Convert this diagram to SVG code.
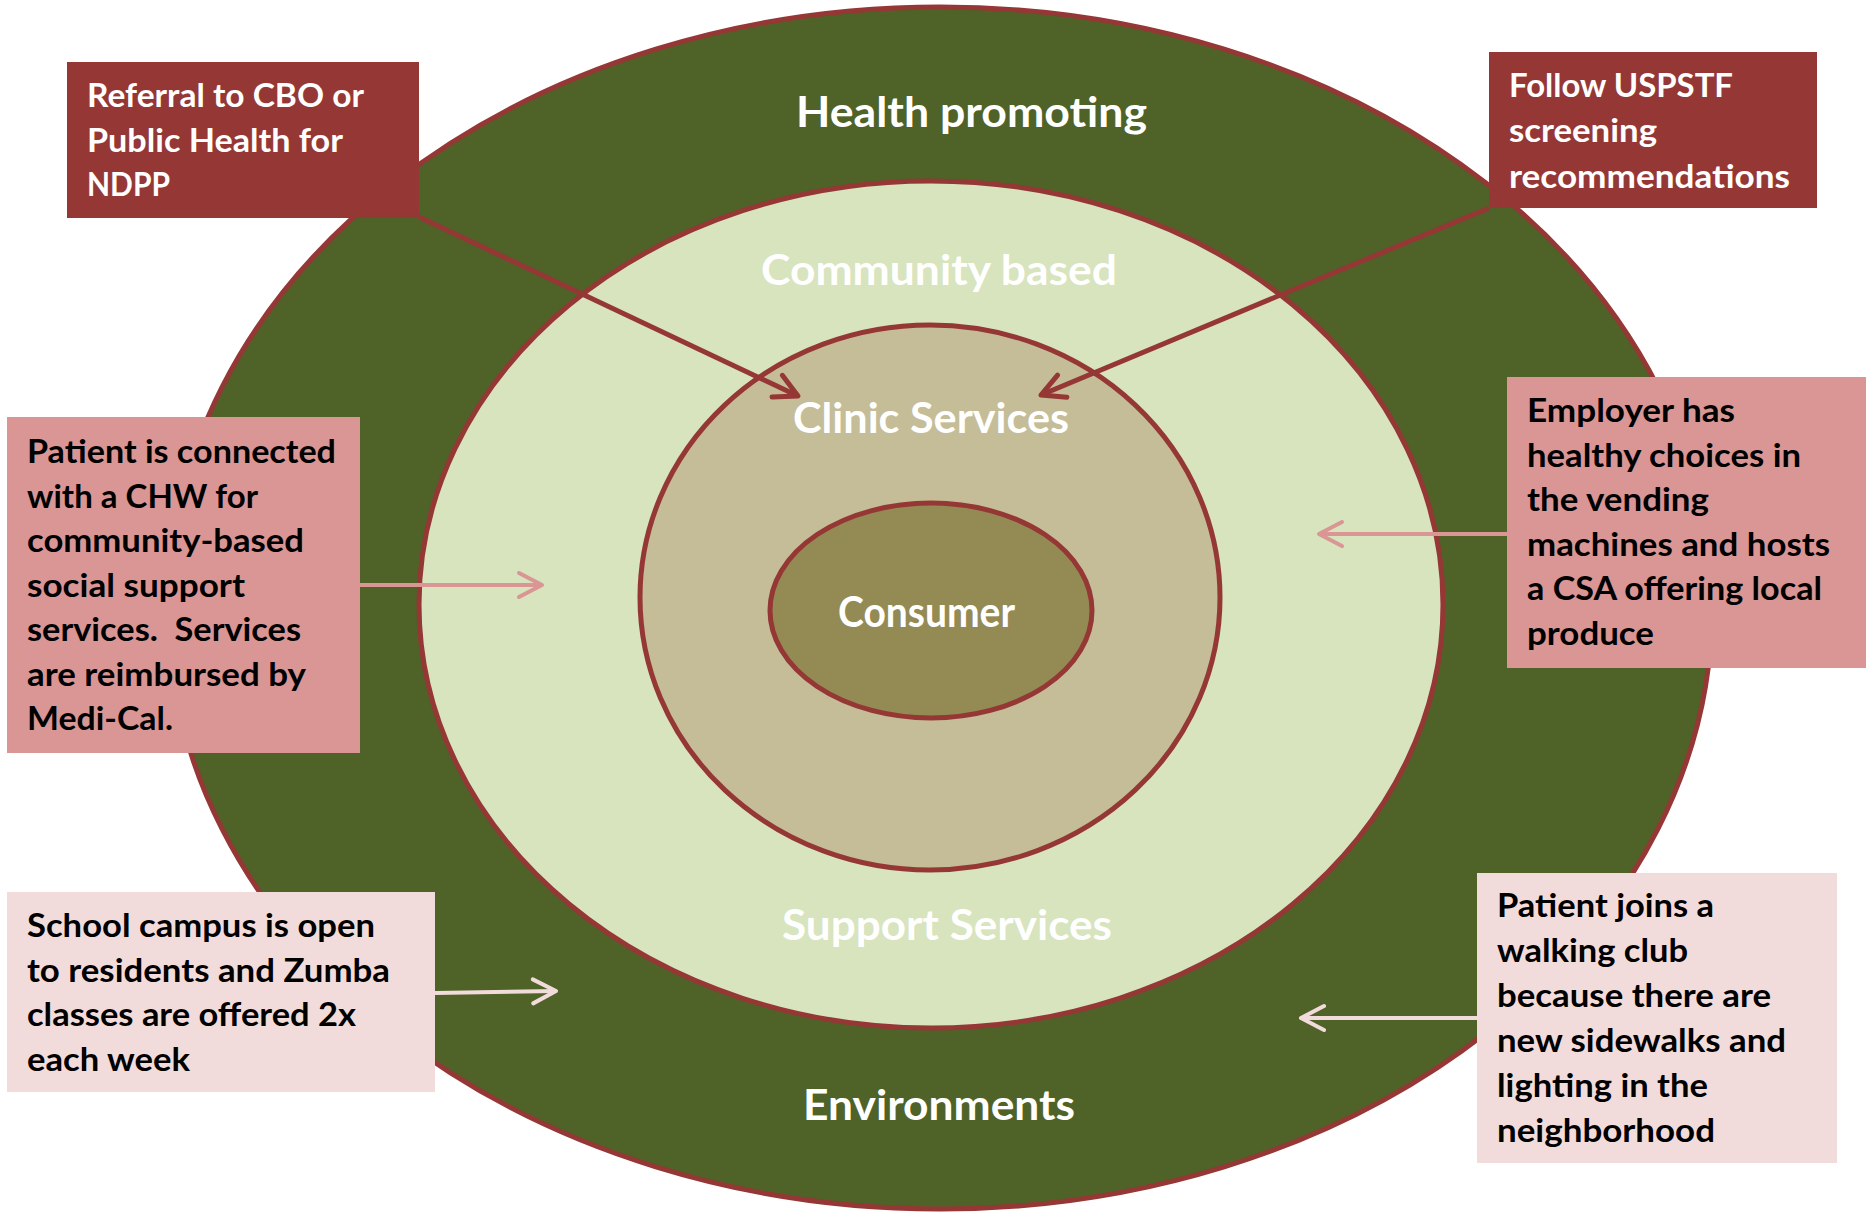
<svg xmlns="http://www.w3.org/2000/svg" width="1866" height="1212" viewBox="0 0 1866 1212">
  <style>
    .ring { stroke: #953735; stroke-width: 5; }
    .title { font-family: Lato, "Open Sans", "Liberation Sans", sans-serif; font-weight: bold; font-size: 42px; fill: #FFFFFF; }
    .note { font-family: Lato, "Open Sans", "Liberation Sans", sans-serif; font-weight: bold; font-size: 32px; }
    .note-light { fill: #FFFFFF; }
    .note-dark { fill: #000000; }
    .box-red { fill: #953735; }
    .box-pink { fill: #D99694; }
    .box-pale { fill: #F2DCDB; }
    .link { fill: none; stroke-linecap: butt; }
    .link-red { stroke: #953735; stroke-width: 5; }
    .link-pink { stroke: #D99694; stroke-width: 4; }
    .link-pale { stroke: #F2DCDB; stroke-width: 4; }
  </style>
  <defs>
    <marker id="head-red" viewBox="-30 -20 40 40" refX="0" refY="0" markerWidth="40" markerHeight="40" markerUnits="userSpaceOnUse" orient="auto" overflow="visible">
      <path d="M-23,-12 L0,0 L-23,12" fill="none" stroke="#953735" stroke-width="5" stroke-linecap="round" stroke-linejoin="round"/>
    </marker>
    <marker id="head-pink" viewBox="-30 -20 40 40" refX="0" refY="0" markerWidth="40" markerHeight="40" markerUnits="userSpaceOnUse" orient="auto" overflow="visible">
      <path d="M-23,-12 L0,0 L-23,12" fill="none" stroke="#D99694" stroke-width="4" stroke-linecap="round" stroke-linejoin="round"/>
    </marker>
    <marker id="head-pale" viewBox="-30 -20 40 40" refX="0" refY="0" markerWidth="40" markerHeight="40" markerUnits="userSpaceOnUse" orient="auto" overflow="visible">
      <path d="M-23,-12 L0,0 L-23,12" fill="none" stroke="#F2DCDB" stroke-width="4" stroke-linecap="round" stroke-linejoin="round"/>
    </marker>
  </defs>

  <rect width="1866" height="1212" fill="#FFFFFF"/>

  <!-- concentric rings -->
  <g id="ring-environments">
    <ellipse class="ring" cx="940" cy="608" rx="772" ry="601" fill="#4F6228" stroke-width="4"/>
    <text class="title" x="796" y="127" textLength="351" lengthAdjust="spacingAndGlyphs">Health promoting</text>
    <text class="title" x="803" y="1120" textLength="272" lengthAdjust="spacingAndGlyphs">Environments</text>
  </g>
  <g id="ring-community">
    <ellipse class="ring" cx="931" cy="604.5" rx="512" ry="423.5" fill="#D7E4BD"/>
    <text class="title" x="761" y="285" textLength="356" lengthAdjust="spacingAndGlyphs">Community based</text>
    <text class="title" x="782" y="940" textLength="330" lengthAdjust="spacingAndGlyphs">Support Services</text>
  </g>
  <g id="ring-clinic">
    <ellipse class="ring" cx="930" cy="597.5" rx="290" ry="272.5" fill="#C4BD97"/>
    <text class="title" x="793" y="433" textLength="276" lengthAdjust="spacingAndGlyphs">Clinic Services</text>
  </g>
  <g id="ring-consumer">
    <ellipse class="ring" cx="931" cy="610.5" rx="161" ry="107.5" fill="#948A54"/>
    <text class="title" x="838" y="627" textLength="177" lengthAdjust="spacingAndGlyphs">Consumer</text>
  </g>

  <!-- connectors -->
  <g id="connectors">
    <line class="link link-red" x1="419" y1="217" x2="798" y2="396" marker-end="url(#head-red)"/>
    <line class="link link-red" x1="1489" y1="208" x2="1041" y2="395" marker-end="url(#head-red)"/>
    <line class="link link-pink" x1="360" y1="585" x2="542" y2="585" marker-end="url(#head-pink)"/>
    <line class="link link-pink" x1="1507" y1="534" x2="1319" y2="534" marker-end="url(#head-pink)"/>
    <line class="link link-pale" x1="435" y1="993" x2="556" y2="991" marker-end="url(#head-pale)"/>
    <line class="link link-pale" x1="1477" y1="1018" x2="1301" y2="1018" marker-end="url(#head-pale)"/>
  </g>

  <!-- note boxes -->
  <g id="note-referral">
    <rect class="box-red" x="67" y="62" width="352" height="156"/>
    <text class="note note-light" x="87" y="107" textLength="277" lengthAdjust="spacingAndGlyphs">Referral to CBO or</text>
    <text class="note note-light" x="87" y="151.5" textLength="256" lengthAdjust="spacingAndGlyphs">Public Health for</text>
    <text class="note note-light" x="87" y="196" textLength="83" lengthAdjust="spacingAndGlyphs">NDPP</text>
  </g>
  <g id="note-uspstf">
    <rect class="box-red" x="1489" y="52" width="328" height="156"/>
    <text class="note note-light" x="1509" y="97" textLength="224" lengthAdjust="spacingAndGlyphs">Follow USPSTF</text>
    <text class="note note-light" x="1509" y="142" textLength="148" lengthAdjust="spacingAndGlyphs">screening</text>
    <text class="note note-light" x="1509" y="187.5" textLength="281" lengthAdjust="spacingAndGlyphs">recommendations</text>
  </g>
  <g id="note-chw">
    <rect class="box-pink" x="7" y="417" width="353" height="336"/>
    <text class="note note-dark" x="27" y="463" textLength="309" lengthAdjust="spacingAndGlyphs">Patient is connected</text>
    <text class="note note-dark" x="27" y="507.5" textLength="231" lengthAdjust="spacingAndGlyphs">with a CHW for</text>
    <text class="note note-dark" x="27" y="552" textLength="277" lengthAdjust="spacingAndGlyphs">community-based</text>
    <text class="note note-dark" x="27" y="596.5" textLength="218" lengthAdjust="spacingAndGlyphs">social support</text>
    <text class="note note-dark" x="27" y="641" textLength="274" lengthAdjust="spacingAndGlyphs" xml:space="preserve">services.  Services</text>
    <text class="note note-dark" x="27" y="685.5" textLength="279" lengthAdjust="spacingAndGlyphs">are reimbursed by</text>
    <text class="note note-dark" x="27" y="730" textLength="146" lengthAdjust="spacingAndGlyphs">Medi-Cal.</text>
  </g>
  <g id="note-employer">
    <rect class="box-pink" x="1507" y="377" width="359" height="291"/>
    <text class="note note-dark" x="1527" y="422" textLength="208" lengthAdjust="spacingAndGlyphs">Employer has</text>
    <text class="note note-dark" x="1527" y="466.5" textLength="274" lengthAdjust="spacingAndGlyphs">healthy choices in</text>
    <text class="note note-dark" x="1527" y="511" textLength="182" lengthAdjust="spacingAndGlyphs">the vending</text>
    <text class="note note-dark" x="1527" y="555.5" textLength="303" lengthAdjust="spacingAndGlyphs">machines and hosts</text>
    <text class="note note-dark" x="1527" y="600" textLength="295" lengthAdjust="spacingAndGlyphs">a CSA offering local</text>
    <text class="note note-dark" x="1527" y="644.5" textLength="127" lengthAdjust="spacingAndGlyphs">produce</text>
  </g>
  <g id="note-school">
    <rect class="box-pale" x="7" y="892" width="428" height="200"/>
    <text class="note note-dark" x="27" y="937" textLength="348" lengthAdjust="spacingAndGlyphs">School campus is open</text>
    <text class="note note-dark" x="27" y="981.5" textLength="363" lengthAdjust="spacingAndGlyphs">to residents and Zumba</text>
    <text class="note note-dark" x="27" y="1026" textLength="329" lengthAdjust="spacingAndGlyphs">classes are offered 2x</text>
    <text class="note note-dark" x="27" y="1070.5" textLength="163" lengthAdjust="spacingAndGlyphs">each week</text>
  </g>
  <g id="note-walking">
    <rect class="box-pale" x="1477" y="873" width="360" height="290"/>
    <text class="note note-dark" x="1497" y="917" textLength="217" lengthAdjust="spacingAndGlyphs">Patient joins a</text>
    <text class="note note-dark" x="1497" y="962" textLength="191" lengthAdjust="spacingAndGlyphs">walking club</text>
    <text class="note note-dark" x="1497" y="1007" textLength="274" lengthAdjust="spacingAndGlyphs">because there are</text>
    <text class="note note-dark" x="1497" y="1052" textLength="289" lengthAdjust="spacingAndGlyphs">new sidewalks and</text>
    <text class="note note-dark" x="1497" y="1097" textLength="211" lengthAdjust="spacingAndGlyphs">lighting in the</text>
    <text class="note note-dark" x="1497" y="1142" textLength="218" lengthAdjust="spacingAndGlyphs">neighborhood</text>
  </g>
</svg>
